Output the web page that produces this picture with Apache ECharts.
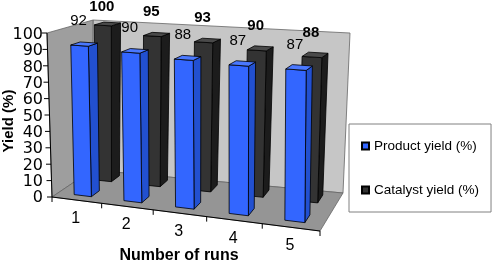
<!DOCTYPE html>
<html><head><meta charset="utf-8">
<script src="https://cdn.jsdelivr.net/npm/echarts@6/dist/echarts.min.js"></script>
<style>html,body{margin:0;padding:0;background:#fff}#c{width:492px;height:264px}</style>
</head><body><div id="c"></div>
<script>
// ---- data ----
const categories = ['1', '2', '3', '4', '5'];
const productYield = [92, 90, 88, 87, 87];
const catalystYield = [100, 95, 93, 90, 88];
const seriesNames = ['Product yield (%)', 'Catalyst yield (%)'];
const yMin = 0, yMax = 100, yInterval = 10;

// ---- layout / projection (styling only) ----
const GRID = {left: 50, top: 35, width: 270, height: 163};
const C = {
  b00: [52, 197], t00: [47, 33],
  b10: [320, 231], t10: [321, 52],
  b01: [92, 170], t01: [93, 20],
  b11: [343, 193], t11: [350, 33]
};
const K = 0.91;
function warp(u) { return K * u / (1 + (K - 1) * u); }
function lerp(a, b, t) { return [a[0] + (b[0] - a[0]) * t, a[1] + (b[1] - a[1]) * t]; }
function proj(u, v, w) {
  const uu = warp(u);
  const bf = lerp(C.b00, C.b10, uu), bb = lerp(C.b01, C.b11, uu);
  const tf = lerp(C.t00, C.t10, uu), tb = lerp(C.t01, C.t11, uu);
  return lerp(lerp(bf, bb, w), lerp(tf, tb, w), v);
}
function toUV(api, cat, val) {
  const p = api.coord([cat, val]);
  return [(p[0] - GRID.left) / GRID.width, (GRID.top + GRID.height - p[1]) / GRID.height];
}
const FONT = "'Liberation Sans', Arial, sans-serif";

function makeBar(w0, w1, cols, labelFont) {
  return function (params, api) {
    const i = api.value(0), val = api.value(1);
    const uv = toUV(api, i, val), u = uv[0], v = uv[1];
    const hw = api.size([1, 0])[0] / GRID.width * 0.35 / 2;
    const u0 = u - hw, u1 = u + hw;
    const front = [proj(u0, 0, w0), proj(u1, 0, w0), proj(u1, v, w0), proj(u0, v, w0)];
    const side = [proj(u1, 0, w0), proj(u1, 0, w1), proj(u1, v, w1), proj(u1, v, w0)];
    const top = [proj(u0, v, w0), proj(u1, v, w0), proj(u1, v, w1), proj(u0, v, w1)];
    const ft = proj(u, v, w0);
    const st = {stroke: '#000', lineWidth: 0.8, lineJoin: 'round'};
    return {type: 'group', children: [
      {type: 'polygon', shape: {points: side}, style: Object.assign({fill: cols[1]}, st)},
      {type: 'polygon', shape: {points: front}, style: Object.assign({fill: cols[0]}, st)},
      {type: 'polygon', shape: {points: top}, style: Object.assign({fill: cols[2]}, st)},
      {type: 'text', x: ft[0] - 1, y: Math.max(ft[1] - 24.5, 7),
        style: {text: String(val), align: 'center', verticalAlign: 'middle', font: labelFont, fill: '#000'}}
    ]};
  };
}

function renderFrame(params, api) {
  const ch = [];
  const wallSt = {stroke: '#666', lineWidth: 0.8};
  ch.push({type: 'polygon', shape: {points: [proj(0,0,1), proj(1,0,1), proj(1,1,1), proj(0,1,1)]},
    style: Object.assign({fill: '#C6C6C6'}, wallSt)});
  ch.push({type: 'polygon', shape: {points: [proj(0,0,0), proj(0,0,1), proj(0,1,1), proj(0,1,0)]},
    style: Object.assign({fill: '#9E9E9E'}, wallSt)});
  ch.push({type: 'polygon', shape: {points: [proj(0,0,0), proj(1,0,0), proj(1,0,1), proj(0,0,1)]},
    style: Object.assign({fill: '#959595'}, wallSt)});
  // y axis line + ticks
  const a0 = proj(0, 0, 0), a1 = proj(0, 1, 0);
  ch.push({type: 'line', shape: {x1: a0[0], y1: a0[1], x2: a1[0], y2: a1[1]}, style: {stroke: '#000', lineWidth: 1}});
  for (let t = yMin; t <= yMax; t += yInterval) {
    const v = toUV(api, 0, t)[1];
    const p = proj(0, v, 0);
    ch.push({type: 'line', shape: {x1: p[0] - 5, y1: p[1], x2: p[0], y2: p[1]}, style: {stroke: '#000', lineWidth: 1}});
  }
  // x axis line + ticks + labels
  const b1 = proj(1, 0, 0);
  ch.push({type: 'line', shape: {x1: a0[0], y1: a0[1], x2: b1[0], y2: b1[1]}, style: {stroke: '#000', lineWidth: 1}});
  const band = api.size([1, 0])[0] / GRID.width;
  categories.forEach(function (c, i) {
    const u = toUV(api, i, 0)[0];
    const pl = proj(u - band / 2, 0, 0);
    ch.push({type: 'line', shape: {x1: pl[0], y1: pl[1], x2: pl[0], y2: pl[1] + 5}, style: {stroke: '#000', lineWidth: 1}});
    if (i === categories.length - 1) {
      const pr = proj(u + band / 2, 0, 0);
      ch.push({type: 'line', shape: {x1: pr[0], y1: pr[1], x2: pr[0], y2: pr[1] + 5}, style: {stroke: '#000', lineWidth: 1}});
    }
    const pc = proj(u, 0, 0);
    ch.push({type: 'text', x: pc[0] - 1, y: pc[1] + 18,
      style: {text: c, align: 'center', verticalAlign: 'middle', font: '16px ' + FONT, fill: '#000'}});
  });
  return {type: 'group', children: ch};
}

const chart = echarts.init(document.getElementById('c'), null, {renderer: 'canvas'});
chart.setOption({
  animation: false,
  backgroundColor: '#fff',
  grid: {left: GRID.left, top: GRID.top, width: GRID.width, height: GRID.height},
  xAxis: {type: 'category', data: categories, show: false},
  yAxis: {type: 'value', min: yMin, max: yMax, interval: yInterval,
    axisLine: {show: false}, axisTick: {show: false}, splitLine: {show: false},
    axisLabel: {margin: 7, color: '#000', fontFamily: 'DejaVu Sans', fontSize: 16}},
  legend: {orient: 'vertical', left: 349, top: 124, padding: [15, 12, 15, 12], itemGap: 30,
    itemWidth: 7, itemHeight: 7, icon: 'rect', borderColor: '#808080', borderWidth: 1,
    textStyle: {fontFamily: 'Liberation Sans', fontSize: 13.5, color: '#000', lineHeight: 14},
    data: seriesNames},
  graphic: [
    {type: 'text', x: 8.5, y: 121, rotation: Math.PI / 2,
      style: {text: 'Yield (%)', align: 'center', verticalAlign: 'middle', font: 'bold 15px ' + FONT, fill: '#000'}},
    {type: 'text', x: 179, y: 256,
      style: {text: 'Number of runs', align: 'center', verticalAlign: 'middle', font: 'bold 16px ' + FONT, fill: '#000'}}
  ],
  series: [
    {type: 'custom', name: 'frame', z: 1, silent: true, data: [0], renderItem: renderFrame},
    {type: 'custom', name: seriesNames[1], z: 2,
      itemStyle: {color: '#333333', borderColor: '#000', borderWidth: 1},
      data: catalystYield.map((v, i) => [i, v]),
      renderItem: makeBar(0.69, 0.90, ['#333333', '#1c1c1c', '#4a4a4a'], 'bold 15px ' + FONT)},
    {type: 'custom', name: seriesNames[0], z: 3,
      itemStyle: {color: '#3366FF', borderColor: '#000', borderWidth: 1},
      data: productYield.map((v, i) => [i, v]),
      renderItem: makeBar(0.16, 0.37, ['#3366FF', '#2250D0', '#4a78ff'], '15px ' + FONT)}
  ]
});
</script></body></html>
